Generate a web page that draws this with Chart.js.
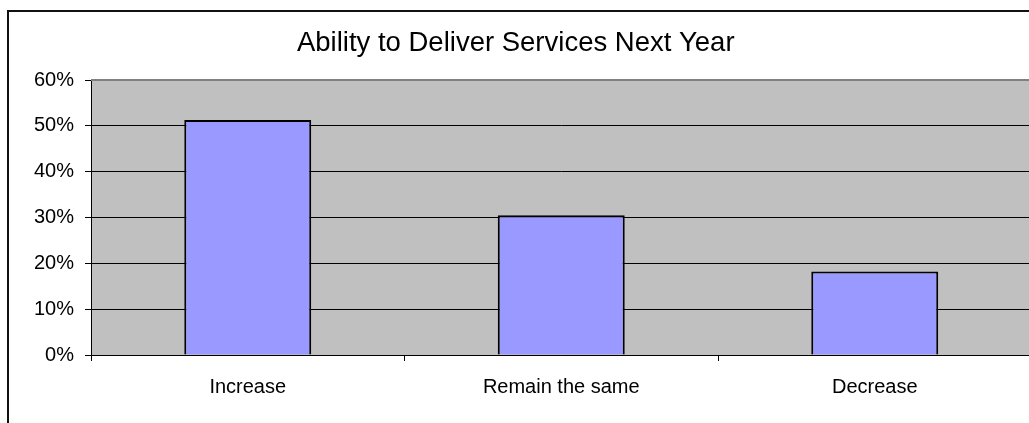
<!DOCTYPE html>
<html>
<head>
<meta charset="utf-8">
<script src="https://cdn.jsdelivr.net/npm/chart.js@4.4.0/dist/chart.umd.min.js"></script>
<style>
    html, body { margin: 0; padding: 0; overflow: hidden; background: #fff; }
    #wrap { width: 1040px; height: 430px; }
</style>
</head>
<body>
<div id="wrap"><canvas id="chart" width="1040" height="430"></canvas></div>
<script>
const categories = ['Increase', 'Remain the same', 'Decrease'];
const values = [51.3, 30.5, 18.2];
const yMax = 60;
const yStep = 10;

const FONT = "'Liberation Sans', Arial, sans-serif";

// grey plot area and the outer frame, like the old spreadsheet chart
const plotBackground = {
    id: 'plotBackground',
    beforeDraw(chart) {
        const { ctx, chartArea: a } = chart;
        ctx.save();
        ctx.fillStyle = '#ffffff';
        ctx.fillRect(0, 0, chart.width, chart.height);
        ctx.fillStyle = '#c0c0c0';
        ctx.fillRect(a.left, a.top, a.right - a.left, a.bottom - a.top);
        ctx.restore();
    },
    afterDraw(chart) {
        const { ctx, chartArea: a } = chart;
        ctx.save();
        ctx.strokeStyle = '#808080';
        ctx.lineWidth = 2;
        ctx.beginPath();
        ctx.moveTo(a.left, a.top);
        ctx.lineTo(a.right, a.top);
        ctx.stroke();
        ctx.strokeStyle = '#111';
        ctx.lineWidth = 2;
        ctx.strokeRect(8, 11, chart.width, chart.height);
        ctx.restore();
    }
};

new Chart(document.getElementById('chart').getContext('2d'), {
    type: 'bar',
    data: {
        labels: categories,
        datasets: [{
            data: values,
            backgroundColor: '#9999ff',
            borderColor: '#000000',
            borderWidth: 2,
            barPercentage: 0.405,
            categoryPercentage: 1
        }]
    },
    options: {
        responsive: false,
        animation: false,
        layout: { padding: { top: 0, left: 0, right: 8.5, bottom: 0 } },
        plugins: {
            legend: { display: false },
            tooltip: { enabled: false },
            title: {
                display: true,
                text: 'Ability to Deliver Services Next Year',
                color: '#000',
                font: { family: FONT, size: 27.5, weight: 'normal' },
                padding: { top: 27, bottom: 20 }
            }
        },
        scales: {
            x: {
                grid: {
                    offset: true,
                    drawOnChartArea: false,
                    drawTicks: true,
                    tickLength: 6,
                    color: '#000'
                },
                border: { display: true, color: '#000', width: 1 },
                ticks: {
                    color: '#000',
                    padding: 14,
                    maxRotation: 0,
                    font: { family: FONT, size: 20 }
                },
                afterFit(scale) { scale.height = 75; }
            },
            y: {
                min: 0,
                max: yMax,
                grid: {
                    color: '#000',
                    lineWidth: 1,
                    tickLength: 6,
                    tickColor: '#000'
                },
                border: { display: true, color: '#000', width: 1 },
                ticks: {
                    stepSize: yStep,
                    color: '#000',
                    padding: 11,
                    font: { family: FONT, size: 20 },
                    callback: v => v + '%'
                },
                afterFit(scale) { scale.width = 91; }
            }
        }
    },
    plugins: [plotBackground]
});
</script>
</body>
</html>
